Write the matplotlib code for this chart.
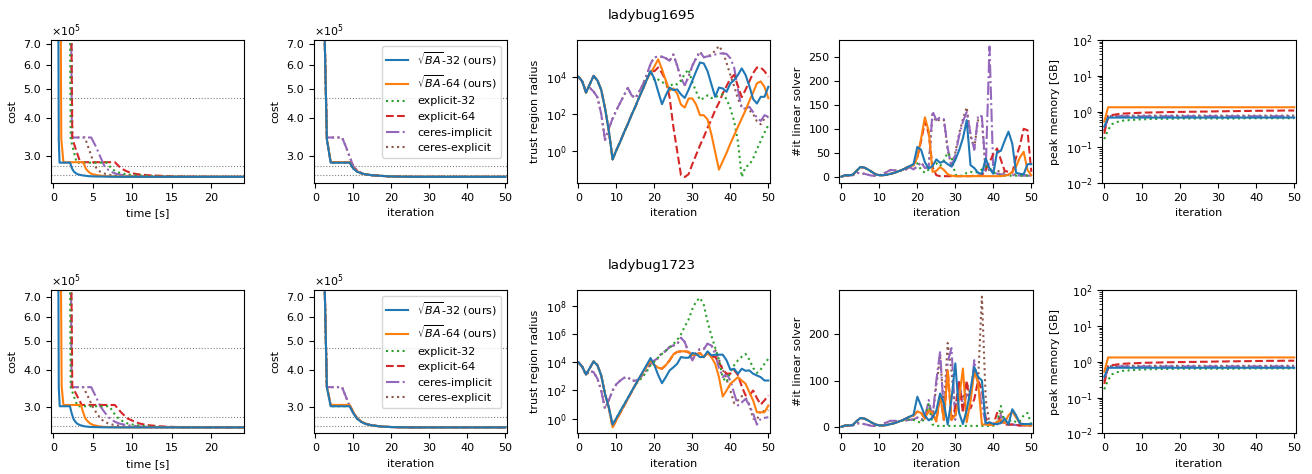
import numpy as np
import matplotlib
matplotlib.use('Agg')
import matplotlib.pyplot as plt
from matplotlib.ticker import FixedLocator, FuncFormatter, NullLocator, MultipleLocator

plt.rcParams['font.size'] = 8

# solvers, in legend order
labels = [r'$\sqrt{BA}$-32 (ours)', r'$\sqrt{BA}$-64 (ours)', 'explicit-32',
          'explicit-64', 'ceres-implicit', 'ceres-explicit']
colors = ['C0', 'C1', 'C2', 'C3', 'C4', 'C5']
styles = ['-', '-', ':', '--', '-.', ':']

iters = np.arange(51)

# ---------------- ladybug1695 ----------------
# cost in units of 1e5
cost95_ba32 = [39.0, 22.0, 13.0, 3.40, 2.85, 2.85, 2.85, 2.85, 2.85, 2.85, 2.72, 2.66, 2.63, 2.61, 2.60, 2.59,
               2.585, 2.58, 2.575, 2.57, 2.567, 2.565, 2.564, 2.563, 2.562, 2.561] + [2.56] * 25
cost95_ba64 = [39.0, 22.0, 13.0, 3.42, 2.86, 2.86, 2.86, 2.86, 2.86, 2.86, 2.73, 2.67, 2.63, 2.61, 2.60, 2.59,
               2.585, 2.58, 2.575, 2.57, 2.567, 2.565, 2.564, 2.563, 2.562, 2.561] + [2.56] * 25
cost95_exp32 = cost95_ba32
cost95_exp64 = cost95_ba64
cost95_impl = [39.0, 22.0, 13.0, 3.45, 3.45, 3.45, 3.45, 3.45, 3.22, 2.98, 2.77, 2.68, 2.64, 2.615, 2.60, 2.59,
               2.585, 2.58, 2.575, 2.57, 2.567, 2.565, 2.564, 2.563, 2.562, 2.561] + [2.56] * 25
cost95_expl = cost95_impl
cost95_refs = [4.66, 2.775, 2.59]

# wall time [s] at each iteration
time95_ba32 = [0.45, 0.52, 0.60, 0.68, 0.78, 1.05, 1.32, 1.60, 1.87, 2.12, 2.38, 2.62, 2.86, 3.10, 3.35, 3.60,
               3.85, 4.10, 4.35, 4.62, 5.3, 5.9, 6.4, 6.9, 7.4, 8.0, 8.5, 9.1, 9.6, 10.1, 10.7, 11.4, 12.2, 13.2,
               13.7, 14.2, 14.6, 15.0, 15.6, 16.1, 16.5, 17.2, 17.9, 18.7, 19.7, 20.6, 21.1, 21.6, 22.2, 23.0, 24.2]
time95_ba64 = [0.70, 0.80, 0.90, 1.00, 1.27, 1.78, 2.28, 2.79, 3.29, 3.80, 4.10, 4.40, 4.70, 5.00, 5.30, 5.60,
               5.90, 6.20, 6.50, 6.80, 7.3, 7.9, 8.6, 9.3, 9.8, 10.3, 10.8, 11.3, 11.8, 12.3, 12.8, 13.3, 13.8,
               14.3, 14.8, 15.3, 15.8, 16.3, 16.8, 17.3, 17.8, 18.3, 18.8, 19.3, 19.8, 20.4, 21.0, 21.8, 22.9,
               24.1, 25.2]
time95_exp32 = [1.75, 1.90, 2.05, 2.20, 2.95, 3.70, 4.50, 5.30, 6.00, 6.80, 7.40, 8.00, 8.60, 9.20, 9.80, 10.4,
                11.0, 11.6, 12.2, 12.8, 13.4, 14.0, 14.7, 15.3, 15.9, 16.6, 17.2, 17.9, 18.6, 19.3, 19.9, 20.5,
                21.1, 21.7, 22.3, 22.9, 23.5, 24.1, 24.8, 25.4, 26.0, 26.6, 27.2, 27.8, 28.4, 29.0, 29.6, 30.2,
                30.8, 31.4, 32.0]
time95_exp64 = [1.90, 2.05, 2.20, 2.40, 3.40, 4.30, 5.20, 6.00, 6.90, 7.80, 8.60, 9.30, 10.0, 10.7, 11.4, 12.1,
                12.8, 13.5, 14.2, 14.9, 15.6, 16.3, 17.0, 17.7, 18.4, 19.1, 19.8, 20.5, 21.2, 21.9, 22.6, 23.3,
                24.0, 24.7, 25.4, 26.1, 26.8, 27.5, 28.2, 28.9, 29.6, 30.3, 31.0, 31.7, 32.4, 33.1, 33.8, 34.5,
                35.2, 35.9, 36.6]
time95_impl = [1.90, 2.05, 2.20, 2.35, 2.95, 3.55, 4.15, 4.80, 5.40, 5.95, 6.50, 7.10, 7.60, 8.10, 8.60, 9.10,
               9.60, 10.1, 10.6, 11.1, 11.7, 12.3, 12.9, 13.5, 14.1, 14.7, 15.3, 15.9, 16.5, 17.1, 17.7, 18.3,
               18.9, 19.5, 20.1, 20.7, 21.3, 21.9, 22.5, 23.1, 23.7, 24.3, 24.9, 25.5, 26.1, 26.7, 27.3, 27.9,
               28.5, 29.1, 29.7]
time95_expl = [1.95, 2.10, 2.25, 2.40, 2.80, 3.20, 3.60, 4.00, 4.40, 4.85, 5.30, 5.75, 6.20, 6.65, 7.10, 7.55,
               8.00, 8.45, 8.90, 9.35, 9.80, 10.3, 10.8, 11.3, 11.8, 12.3, 12.8, 13.3, 13.8, 14.3, 14.8, 15.3,
               15.8, 16.3, 16.8, 17.3, 17.8, 18.3, 18.8, 19.3, 19.8, 20.3, 20.8, 21.3, 21.8, 22.3, 22.8, 23.3,
               23.8, 24.3, 24.8]

# trust region radius, log10
tr95_ba32 = [4.0, 3.75, 3.15, 3.6, 4.05, 3.8, 3.3, 2.3, 1.1, -0.45, 0.05, 0.5, 1.0, 1.45, 1.95, 2.4, 2.9, 3.35,
             3.85, 4.3, 3.9, 3.2, 2.52, 3.0, 3.42, 3.28, 3.32, 3.05, 2.86, 3.3, 3.8, 4.3, 4.77, 4.72, 4.3, 3.6,
             2.92, 3.42, 3.37, 3.19, 3.64, 3.82, 4.1, 4.45, 4.1, 3.5, 2.8, 2.56, 2.92, 2.92, 3.46]
tr95_ba64 = [4.0, 3.75, 3.15, 3.6, 4.05, 3.8, 3.3, 2.3, 1.1, -0.45, 0.05, 0.5, 1.0, 1.45, 1.95, 2.4, 2.9, 3.35,
             3.85, 4.2, 4.55, 4.94, 4.4, 3.8, 3.25, 3.37, 3.1, 2.5, 2.34, 2.83, 2.83, 2.5, 1.93, 1.93, 1.7, 0.9,
             -0.05, -1.0, -0.55, -0.1, 0.4, 0.85, 1.3, 1.75, 2.2, 2.7, 3.15, 3.65, 3.75, 3.45, 2.85]
tr95_exp32 = [4.0, 3.75, 3.15, 3.6, 4.05, 3.8, 3.3, 2.3, 1.1, -0.45, 0.05, 0.5, 1.0, 1.45, 1.95, 2.4, 2.9, 3.35,
              3.85, 4.3, 3.8, 3.85, 3.75, 3.52, 3.46, 3.64, 3.59, 3.8, 4.15, 4.4, 3.7, 3.2, 2.75, 2.85, 3.0, 2.85,
              2.9, 3.0, 3.05, 2.8, 2.3, 1.6, 0.5, -1.4, -0.85, -0.75, -0.4, 0.1, 0.55, 1.0, 1.39]
tr95_exp64 = [4.0, 3.75, 3.15, 3.6, 4.05, 3.8, 3.3, 2.3, 1.1, -0.45, 0.05, 0.5, 1.0, 1.45, 1.95, 2.4, 2.9, 3.35,
              3.85, 4.3, 4.3, 4.5, 4.2, 3.8, 2.9, 1.3, 0.0, -1.3, -1.4, -1.25, -0.7, -0.2, 0.3, 0.75, 1.25, 1.7,
              2.2, 2.6, 3.1, 3.5, 3.9, 4.1, 3.5, 2.9, 3.3, 3.75, 4.2, 4.5, 4.5, 4.3, 4.0]
tr95_impl = [4.0, 3.75, 3.2, 3.4, 3.2, 2.9, 2.0, 0.6, 1.2, 1.75, 2.2, 2.6, 3.0, 3.4, 3.0, 2.85, 3.2, 3.6, 4.1,
             4.7, 5.05, 5.08, 5.08, 5.0, 4.86, 5.2, 4.6, 3.9, 3.55, 4.0, 4.6, 5.0, 5.35, 5.05, 5.1, 5.12, 5.2,
             5.25, 5.26, 5.23, 5.0, 4.5, 3.3, 2.29, 2.29, 2.38, 2.1, 1.8, 1.62, 1.93, 1.84]
tr95_expl = [4.0, 3.75, 3.2, 3.4, 3.2, 2.9, 2.0, 0.6, 1.2, 1.75, 2.2, 2.6, 3.0, 3.4, 3.0, 2.85, 3.2, 3.6, 4.1,
             4.7, 5.05, 5.08, 5.08, 5.0, 4.86, 5.2, 4.6, 3.9, 3.55, 4.0, 4.6, 5.0, 5.35, 5.05, 5.1, 5.2, 5.4,
             5.66, 5.35, 4.75, 4.1, 3.5, 2.8, 2.4, 2.3, 2.2, 2.0, 1.6, 1.44, 1.75, 1.84]

# linear solver iterations
lin95_ba32 = [0, 3, 3, 4, 12, 20, 19, 15, 10, 5, 3, 3, 4, 6, 8, 11, 14, 18, 22, 26, 62, 56, 30, 17, 22, 36, 29,
              32, 26, 21, 35, 55, 80, 118, 24, 18, 8, 6, 38, 17, 6, 52, 54, 75, 94, 69, 8, 6, 5, 26, 26]
lin95_ba64 = [0, 3, 3, 4, 12, 20, 19, 15, 10, 5, 3, 3, 4, 6, 8, 11, 14, 18, 22, 24, 40, 80, 124, 95, 10, 12, 20,
              14, 5, 2, 1, 1, 1, 1, 1, 1, 1, 1, 1, 1, 1, 1, 1, 2, 4, 10, 21, 40, 52, 14, 3]
lin95_exp32 = [0, 3, 3, 4, 12, 20, 19, 15, 10, 5, 3, 3, 4, 6, 8, 11, 14, 18, 22, 26, 28, 14, 8, 15, 22, 28, 22,
               34, 50, 40, 4, 2, 2, 8, 10, 8, 10, 15, 21, 18, 10, 4, 2, 2, 2, 2, 2, 2, 2, 2, 2]
lin95_exp64 = [0, 3, 3, 4, 12, 20, 19, 15, 10, 5, 3, 3, 4, 6, 8, 11, 14, 18, 22, 24, 40, 75, 115, 90, 20, 3, 1,
               1, 1, 1, 1, 1, 1, 1, 1, 2, 2, 3, 14, 30, 47, 59, 35, 12, 10, 8, 40, 65, 100, 97, 10]
lin95_impl = [0, 2, 2, 3, 8, 7, 6, 4, 2, 2, 3, 6, 10, 14, 13, 12, 13, 15, 20, 15, 22, 30, 18, 20, 137, 118, 124,
              120, 60, 20, 45, 85, 115, 135, 90, 56, 128, 126, 12, 272, 10, 6, 5, 4, 3, 3, 3, 2, 2, 2, 2]
lin95_expl = [0, 2, 2, 3, 8, 7, 6, 4, 2, 2, 3, 6, 10, 14, 13, 12, 13, 15, 20, 15, 22, 30, 18, 20, 130, 115, 120,
              118, 55, 22, 50, 90, 120, 145, 85, 60, 120, 118, 10, 15, 18, 12, 10, 8, 5, 5, 4, 4, 3, 3, 3]

# peak memory [GB]
mem95_ba32 = [0.38] + [0.68] * 50
mem95_ba64 = [0.53] + [1.32] * 50
mem95_exp32 = [0.17, 0.31, 0.44, 0.50, 0.53, 0.56, 0.57, 0.58, 0.59, 0.60, 0.61, 0.61, 0.62, 0.62, 0.62, 0.63,
               0.63, 0.63, 0.63, 0.64, 0.64] + [0.64] * 15 + [0.65] * 15
mem95_exp64 = [0.24, 0.76, 0.80, 0.83, 0.86, 0.88, 0.89, 0.90, 0.91, 0.92, 0.93, 0.94, 0.94, 0.95, 0.95, 0.96,
               0.96, 0.97, 0.97, 0.98, 0.98, 0.98, 0.99, 0.99, 0.99, 1.00, 1.00, 1.00, 1.01, 1.01, 1.02, 1.02,
               1.02, 1.03, 1.03, 1.03, 1.04, 1.04, 1.04, 1.05, 1.05, 1.05, 1.05, 1.06, 1.06, 1.06, 1.06, 1.07,
               1.07, 1.07, 1.07]
mem95_impl = [0.30, 0.70] + [0.74] * 49
mem95_expl = [0.28, 0.69] + [0.77] * 49

# ---------------- ladybug1723 ----------------
cost23_ba32 = [40.0, 23.0, 13.5, 3.50, 3.02, 3.02, 3.02, 3.02, 3.02, 3.02, 2.86, 2.74, 2.68, 2.64, 2.62, 2.605,
               2.595, 2.585, 2.58, 2.575, 2.572, 2.57, 2.568, 2.567, 2.566] + [2.565] * 26
cost23_ba64 = [40.0, 23.0, 13.5, 3.52, 3.05, 3.05, 3.05, 3.05, 3.05, 3.05, 2.88, 2.75, 2.69, 2.645, 2.62, 2.605,
               2.595, 2.585, 2.58, 2.575, 2.572, 2.57, 2.568, 2.567, 2.566] + [2.565] * 26
cost23_exp32 = cost23_ba32
cost23_exp64 = cost23_ba64
cost23_impl = [40.0, 23.0, 13.5, 3.50, 3.50, 3.50, 3.50, 3.50, 3.25, 3.02, 2.86, 2.74, 2.68, 2.64, 2.62, 2.605,
               2.595, 2.585, 2.58, 2.575, 2.572, 2.57, 2.568, 2.567, 2.566] + [2.565] * 26
cost23_expl = cost23_impl
cost23_refs = [4.72, 2.79, 2.60]

time23_ba32 = [0.45, 0.52, 0.60, 0.68, 0.80, 1.06, 1.32, 1.58, 1.84, 2.10, 2.32, 2.55, 2.78, 3.02, 3.26, 3.50,
               3.75, 4.00, 4.25, 4.55, 5.0, 5.4, 5.8, 6.2, 6.6, 7.1, 7.8, 8.4, 8.9, 9.6, 10.5, 11.1, 11.5, 12.0,
               12.7, 13.5, 14.2, 14.9, 15.4, 15.8, 16.2, 16.7, 17.2, 17.8, 18.3, 19.0, 19.7, 20.4, 21.3, 22.5, 24.2]
time23_ba64 = [0.70, 0.80, 0.90, 1.05, 1.27, 1.72, 2.17, 2.62, 3.06, 3.50, 3.78, 4.05, 4.35, 4.65, 4.95, 5.25,
               5.55, 5.85, 6.15, 6.45, 7.0, 7.5, 8.0, 8.5, 9.0, 9.5, 10.1, 10.6, 11.3, 11.8, 12.3, 12.9, 13.6,
               14.1, 14.7, 15.4, 16.0, 16.5, 17.0, 17.5, 18.0, 18.5, 19.0, 19.6, 20.2, 20.8, 21.4, 22.0, 22.8,
               23.6, 24.5]
time23_exp32 = [1.75, 1.90, 2.05, 2.20, 3.05, 3.90, 4.70, 5.50, 6.30, 7.10, 7.70, 8.30, 8.90, 9.50, 10.1, 10.7,
                11.3, 11.9, 12.5, 13.1, 13.7, 14.3, 14.9, 15.5, 16.1, 16.7, 17.3, 17.9, 18.5, 19.1, 19.7, 20.3,
                20.9, 21.5, 22.1, 22.7, 23.3, 23.9, 24.5, 25.1, 25.7, 26.3, 26.9, 27.5, 28.1, 28.7, 29.3, 29.9,
                30.5, 31.1, 31.7]
time23_exp64 = [1.90, 2.05, 2.20, 2.40, 3.60, 4.45, 5.30, 6.10, 6.95, 7.80, 8.60, 9.40, 10.2, 10.9, 11.6, 12.3,
                13.0, 13.7, 14.4, 15.1, 15.8, 16.5, 17.2, 17.9, 18.6, 19.3, 20.0, 20.7, 21.4, 22.1, 22.8, 23.5,
                24.2, 24.9, 25.6, 26.3, 27.0, 27.7, 28.4, 29.1, 29.8, 30.5, 31.2, 31.9, 32.6, 33.3, 34.0, 34.7,
                35.4, 36.1, 36.8]
time23_impl = [1.90, 2.05, 2.20, 2.30, 2.90, 3.50, 4.15, 4.80, 5.40, 5.95, 6.60, 7.20, 7.80, 8.40, 9.00, 9.60,
               10.2, 10.8, 11.4, 12.0, 12.6, 13.2, 13.8, 14.4, 15.0, 15.6, 16.2, 16.8, 17.4, 18.0, 18.6, 19.2,
               19.8, 20.4, 21.0, 21.6, 22.2, 22.8, 23.4, 24.0, 24.6, 25.2, 25.8, 26.4, 27.0, 27.6, 28.2, 28.8,
               29.4, 30.0, 30.6]
time23_expl = [1.95, 2.10, 2.20, 2.35, 2.70, 3.05, 3.45, 3.80, 4.40, 4.95, 5.50, 6.00, 6.50, 7.00, 7.50, 8.00,
               8.50, 9.00, 9.50, 10.0, 10.5, 11.0, 11.5, 12.0, 12.5, 13.0, 13.5, 14.0, 14.5, 15.0, 15.5, 16.0,
               16.5, 17.0, 17.5, 18.0, 18.5, 19.0, 19.5, 20.0, 20.5, 21.0, 21.5, 22.0, 22.5, 23.0, 23.5, 24.0,
               24.5, 25.0, 25.5]

tr23_ba32 = [4.0, 3.7, 3.14, 3.6, 4.07, 3.8, 3.07, 1.76, 0.8, -0.43, 0.04, 0.52, 0.99, 1.46, 1.94, 2.41, 2.89,
             3.36, 3.84, 4.31, 3.8, 3.1, 2.52, 2.95, 3.43, 3.65, 3.9, 4.38, 4.33, 4.33, 4.67, 4.6, 4.38, 4.38,
             4.79, 4.5, 4.55, 4.55, 4.55, 4.15, 3.48, 3.55, 3.19, 3.55, 3.4, 3.43, 3.19, 3.07, 2.95, 2.71, 2.71]
tr23_ba64 = [4.0, 3.7, 3.14, 3.6, 4.07, 3.8, 3.07, 1.76, 0.8, -0.62, -0.1, 0.4, 0.9, 1.4, 1.9, 2.4, 2.85, 3.3,
             3.75, 4.14, 3.8, 3.62, 3.55, 3.8, 4.14, 4.57, 4.74, 4.79, 4.79, 4.74, 4.5, 4.57, 4.67, 4.38, 4.67,
             4.38, 3.9, 2.95, 1.57, 2.0, 2.48, 2.71, 2.95, 2.71, 2.48, 1.88, 1.28, 0.45, 0.45, 0.45, 0.93]
tr23_exp32 = [4.0, 3.7, 3.14, 3.6, 4.07, 3.8, 3.07, 1.76, 0.8, -0.43, 0.04, 0.52, 0.99, 1.46, 1.94, 2.41, 2.7,
              3.0, 3.35, 3.8, 4.05, 4.35, 4.6, 4.85, 5.05, 5.3, 5.6, 6.0, 6.55, 7.05, 7.8, 8.35, 8.6, 8.1, 6.9,
              5.9, 5.05, 4.2, 2.9, 2.6, 3.3, 3.8, 4.15, 4.4, 4.6, 4.2, 3.6, 3.25, 3.5, 3.9, 4.26]
tr23_exp64 = [4.0, 3.7, 3.14, 3.6, 4.07, 3.8, 3.07, 1.76, 0.8, -0.62, -0.1, 0.4, 0.9, 1.4, 1.9, 2.4, 2.85, 3.3,
              3.75, 4.14, 3.8, 3.62, 3.55, 3.8, 4.14, 4.57, 4.74, 4.79, 4.79, 4.74, 4.5, 4.57, 4.67, 4.38, 4.67,
              4.38, 4.4, 4.0, 3.5, 3.2, 3.2, 3.45, 3.1, 2.3, 1.65, 1.65, 2.0, 1.45, 1.0, 1.3, 1.65]
tr23_impl = [4.0, 3.7, 3.1, 3.4, 3.3, 2.85, 2.0, 0.7, 1.3, 2.0, 2.45, 2.7, 2.9, 2.95, 2.7, 2.7, 2.8, 3.15, 3.5,
             3.9, 4.15, 4.3, 4.7, 4.8, 5.1, 5.2, 5.3, 5.75, 5.45, 4.7, 4.14, 4.7, 4.95, 4.95, 5.33, 5.2, 4.6, 3.6,
             2.95, 3.2, 2.7, 1.8, 0.93, 1.15, 1.4, 0.95, 0.35, -0.43, 0.0, 0.05, 0.1]
tr23_expl = [4.0, 3.7, 3.1, 3.4, 3.3, 2.85, 2.0, 0.7, 1.3, 2.0, 2.45, 2.7, 2.9, 2.95, 2.7, 2.7, 2.8, 3.15, 3.5,
             3.9, 4.15, 4.3, 4.7, 4.8, 5.1, 5.2, 5.3, 5.75, 5.45, 4.7, 4.14, 4.7, 4.95, 4.95, 5.33, 5.2, 4.9, 4.2,
             3.5, 2.8, 2.0, 1.1, 1.3, 1.6, 1.5, 1.0, 0.0, -0.1, 0.6, 0.5, 0.6]

lin23_ba32 = [0, 3, 3, 4, 12, 19, 18, 14, 9, 5, 3, 3, 4, 6, 8, 11, 14, 18, 22, 26, 65, 45, 24, 14, 20, 35, 72, 50,
              5, 60, 137, 30, 6, 36, 80, 129, 108, 100, 7, 10, 6, 6, 8, 18, 5, 38, 25, 7, 6, 6, 6]
lin23_ba64 = [0, 3, 3, 4, 12, 19, 18, 14, 9, 5, 3, 3, 4, 6, 8, 11, 14, 18, 22, 24, 33, 30, 18, 35, 30, 12, 68, 15,
              122, 15, 25, 60, 126, 10, 55, 120, 95, 5, 5, 4, 4, 10, 15, 8, 25, 33, 20, 8, 4, 3, 3]
lin23_exp32 = [0, 3, 3, 4, 12, 19, 18, 14, 9, 5, 3, 3, 4, 6, 8, 11, 14, 14, 17, 15, 12, 8, 20, 49, 5, 2, 2, 2, 2,
               2, 2, 2, 2, 2, 2, 2, 2, 2, 2, 2, 2, 10, 45, 10, 12, 15, 10, 12, 25, 30, 5]
lin23_exp64 = [0, 3, 3, 4, 12, 19, 18, 14, 9, 5, 3, 3, 4, 6, 8, 11, 14, 18, 22, 24, 33, 30, 18, 35, 30, 12, 68, 15,
               122, 15, 40, 100, 30, 100, 40, 60, 100, 80, 20, 5, 4, 30, 10, 5, 5, 5, 4, 3, 3, 3, 3]
lin23_impl = [0, 2, 2, 3, 8, 7, 6, 4, 2, 2, 3, 6, 10, 13, 13, 12, 13, 14, 15, 16, 20, 15, 20, 58, 20, 100, 163, 25,
              140, 170, 15, 100, 40, 70, 60, 144, 90, 45, 8, 6, 6, 5, 25, 10, 5, 5, 4, 3, 3, 3, 3]
lin23_expl = [0, 2, 2, 3, 8, 7, 6, 4, 2, 2, 3, 6, 10, 13, 13, 12, 13, 14, 15, 16, 20, 15, 20, 50, 20, 90, 150, 40,
              181, 120, 30, 90, 60, 95, 70, 120, 100, 281, 60, 8, 6, 10, 30, 5, 5, 4, 4, 3, 3, 3, 3]

mem23_ba32 = [0.38] + [0.68] * 50
mem23_ba64 = [0.53] + [1.32] * 50
mem23_exp32 = [0.17, 0.31, 0.44, 0.50, 0.53, 0.56, 0.57, 0.58, 0.59, 0.60, 0.61, 0.61, 0.62, 0.62, 0.62, 0.63,
               0.63, 0.63, 0.63, 0.64, 0.64] + [0.64] * 15 + [0.65] * 15
mem23_exp64 = [0.24, 0.76, 0.80, 0.83, 0.86, 0.88, 0.89, 0.90, 0.91, 0.92, 0.93, 0.94, 0.94, 0.95, 0.95, 0.96,
               0.96, 0.97, 0.97, 0.98, 0.98, 0.98, 0.99, 0.99, 0.99, 1.00, 1.00, 1.00, 1.01, 1.01, 1.02, 1.02,
               1.02, 1.03, 1.03, 1.03, 1.04, 1.04, 1.04, 1.05, 1.05, 1.05, 1.05, 1.06, 1.06, 1.06, 1.06, 1.07,
               1.07, 1.07, 1.07]
mem23_impl = [0.30, 0.70] + [0.74] * 49
mem23_expl = [0.28, 0.69] + [0.77] * 49

problems = [
    dict(name='ladybug1695',
         cost=[cost95_ba32, cost95_ba64, cost95_exp32, cost95_exp64, cost95_impl, cost95_expl],
         time=[time95_ba32, time95_ba64, time95_exp32, time95_exp64, time95_impl, time95_expl],
         tr=[tr95_ba32, tr95_ba64, tr95_exp32, tr95_exp64, tr95_impl, tr95_expl],
         lin=[lin95_ba32, lin95_ba64, lin95_exp32, lin95_exp64, lin95_impl, lin95_expl],
         mem=[mem95_ba32, mem95_ba64, mem95_exp32, mem95_exp64, mem95_impl, mem95_expl],
         refs=cost95_refs, cost_lim=(2.44, 7.23), tr_lim=(10 ** -1.73, 10 ** 5.98), tr_ticks=[1e0, 1e2, 1e4]),
    dict(name='ladybug1723',
         cost=[cost23_ba32, cost23_ba64, cost23_exp32, cost23_exp64, cost23_impl, cost23_expl],
         time=[time23_ba32, time23_ba64, time23_exp32, time23_exp64, time23_impl, time23_expl],
         tr=[tr23_ba32, tr23_ba64, tr23_exp32, tr23_exp64, tr23_impl, tr23_expl],
         lin=[lin23_ba32, lin23_ba64, lin23_exp32, lin23_exp64, lin23_impl, lin23_expl],
         mem=[mem23_ba32, mem23_ba64, mem23_exp32, mem23_exp64, mem23_impl, mem23_expl],
         refs=cost23_refs, cost_lim=(2.45, 7.4), tr_lim=(10 ** -1.05, 10 ** 9.14),
         tr_ticks=[1e0, 1e2, 1e4, 1e6, 1e8]),
]


def cost_axis(ax, refs, lim):
    ax.set_yscale('log')
    ax.set_ylim(*lim)
    ax.yaxis.set_major_locator(FixedLocator([3, 4, 5, 6, 7]))
    ax.yaxis.set_major_formatter(FuncFormatter(lambda v, p: '%.1f' % v))
    ax.yaxis.set_minor_locator(NullLocator())
    for r in refs:
        ax.axhline(r, color='grey', ls=':', lw=0.8, zorder=0.5)
    ax.text(0, 1.005, r'$\times10^{5}$', transform=ax.transAxes, ha='left', va='bottom')
    ax.set_ylabel('cost')


fig = plt.figure(figsize=(13.12, 4.74), dpi=100)
axs = fig.subplots(2, 5)
fig.subplots_adjust(left=0.0386, right=0.9876, top=0.9156, bottom=0.0858, wspace=0.36, hspace=0.748)

for row, p in zip(axs, problems):
    handles = [None] * 6
    # draw in reverse so the first solver ends up on top
    for k in reversed(range(6)):
        kw = dict(color=colors[k], ls=styles[k], lw=1.5)
        row[0].plot(p['time'][k], p['cost'][k], **kw)
        handles[k], = row[1].plot(iters, p['cost'][k], label=labels[k], **kw)
        row[2].plot(iters, np.power(10.0, p['tr'][k]), **kw)
        row[3].plot(iters, p['lin'][k], **kw)
        row[4].plot(iters, p['mem'][k], **kw)

    cost_axis(row[0], p['refs'], p['cost_lim'])
    row[0].set_xlim(-0.35, 24.2)
    row[0].xaxis.set_major_locator(MultipleLocator(5))
    row[0].set_xlabel('time [s]')

    cost_axis(row[1], p['refs'], p['cost_lim'])
    row[1].legend(handles=handles, loc='upper right')

    row[2].set_yscale('log')
    row[2].set_ylim(*p['tr_lim'])
    row[2].yaxis.set_major_locator(FixedLocator(p['tr_ticks']))
    row[2].yaxis.set_minor_locator(NullLocator())
    row[2].set_ylabel('trust region radius')
    row[3].set_ylabel('#it linear solver')
    row[4].set_yscale('log')
    row[4].set_ylim(1e-2, 1e2)
    row[4].set_ylabel('peak memory [GB]')

    for ax in row[1:]:
        ax.set_xlim(-0.5, 50.4)
        ax.xaxis.set_major_locator(MultipleLocator(10))
        ax.set_xlabel('iteration')

fig.text(0.497, 1 - 15 / 474, problems[0]['name'], ha='center', va='center', fontsize=9.6)
fig.text(0.497, 1 - 265 / 474, problems[1]['name'], ha='center', va='center', fontsize=9.6)

fig.savefig('out.png', dpi=100)
